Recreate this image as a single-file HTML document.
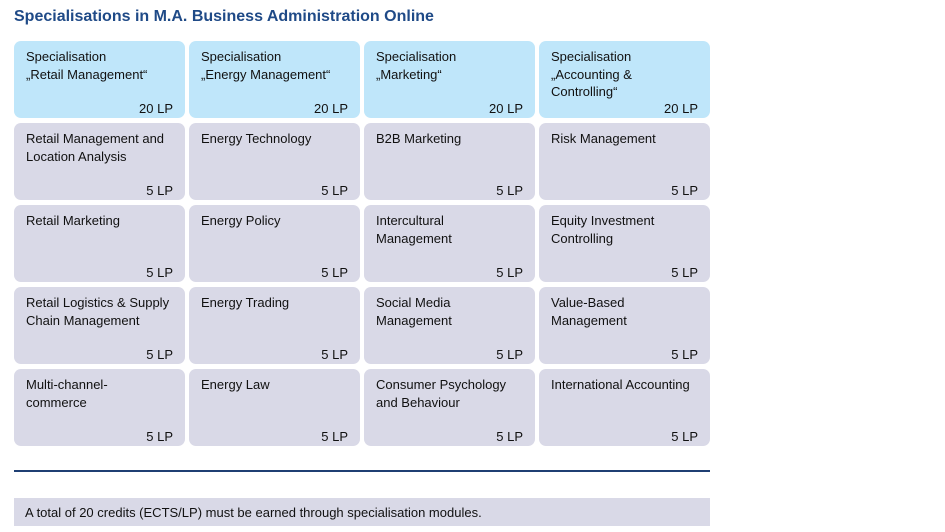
<!DOCTYPE html>
<html><head><meta charset="utf-8"><style>
body{margin:0;width:945px;height:532px;background:#fff;font-family:"Liberation Sans",sans-serif;position:relative;overflow:hidden}
.t{position:absolute;left:14px;top:8px;font-size:16px;font-weight:bold;color:#1f4a87;letter-spacing:0px}
.b{position:absolute;width:171px;height:77px;border-radius:7px;background:#d9d9e7;box-sizing:border-box;padding:7px 12px;font-size:13px;line-height:17.5px;color:#111;letter-spacing:0px}
.h{background:#bfe6fa}
.lp{position:absolute;right:12px;bottom:1px}
.line{position:absolute;left:14px;top:470px;width:696px;height:2px;background:#1f3f73}
.note{position:absolute;left:14px;top:498px;width:696px;height:28px;background:#d9d9e7;font-size:13px;line-height:29px;padding-left:11px;box-sizing:border-box;color:#111}
</style></head><body>
<div class="t">Specialisations in M.A. Business Administration Online</div>
<div id="g"></div>
<div class="line"></div>
<div class="note">A total of 20 credits (ECTS/LP) must be earned through specialisation modules.</div>
<script>
const cols=[
["Specialisation<br>„Retail Management“","Retail Management and Location Analysis","Retail Marketing","Retail Logistics &amp; Supply Chain Management","Multi-channel-<br>commerce"],
["Specialisation<br>„Energy Management“","Energy Technology","Energy Policy","Energy Trading","Energy Law"],
["Specialisation<br>„Marketing“","B2B Marketing","Intercultural<br>Management","Social Media<br>Management","Consumer Psychology and Behaviour"],
["Specialisation<br>„Accounting &amp;<br>Controlling“","Risk Management","Equity Investment Controlling","Value-Based<br>Management","International Accounting"]];
const g=document.getElementById('g');
cols.forEach((c,i)=>c.forEach((txt,j)=>{
const d=document.createElement('div');
d.className='b'+(j==0?' h':'');
d.style.left=(14+i*175)+'px';d.style.top=(41+j*82)+'px';
d.innerHTML=txt+'<span class="lp">'+(j==0?'20 LP':'5 LP')+'</span>';


g.appendChild(d);}));
</script>
</body></html>
